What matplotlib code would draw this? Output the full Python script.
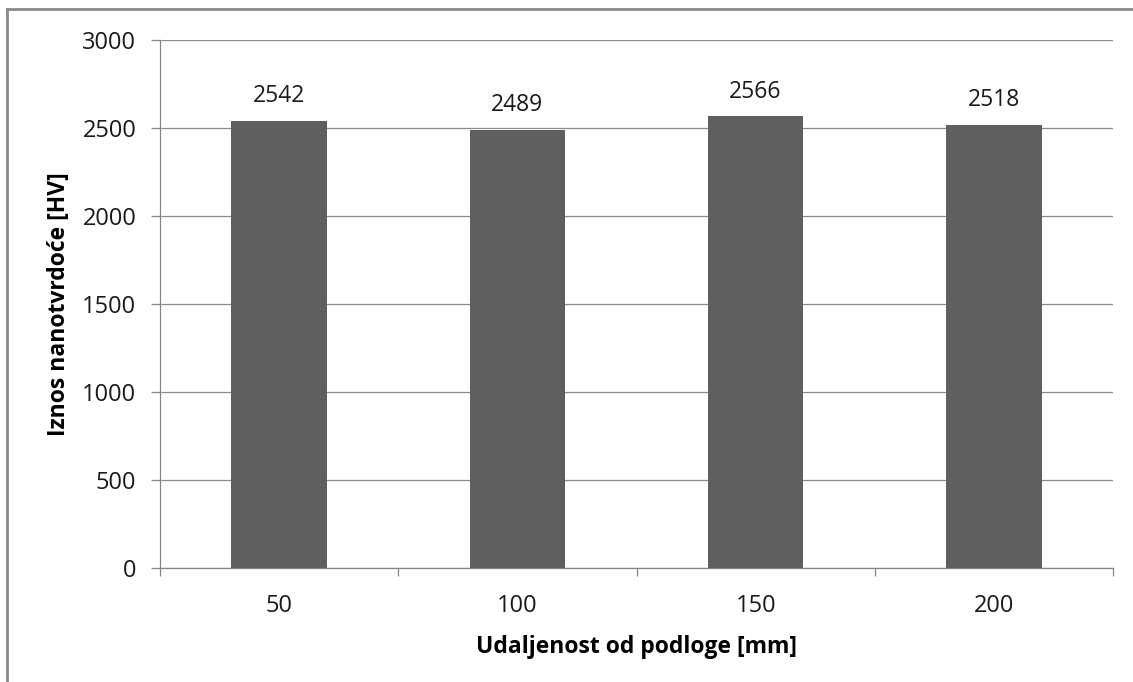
import matplotlib
matplotlib.use("Agg")
import matplotlib.pyplot as plt
from matplotlib.lines import Line2D
import numpy as np

categories = ["50", "100", "150", "200"]
values = [2542, 2489, 2566, 2518]
yticks = [0, 500, 1000, 1500, 2000, 2500, 3000]

plt.rcParams['font.family'] = ['Open Sans', 'DejaVu Sans']
FS = 17
FSL = 16.5

fig = plt.figure(figsize=(11.33, 6.82), dpi=100)
ax = fig.add_axes([160/1133, 1-568/682, (1113-160)/1133, (568-40)/682])

x = np.arange(len(categories))
bars = ax.bar(x, values, width=0.4, color="#5f5f5f", zorder=3)
for xi, v in zip(x, values):
    ax.annotate(str(v), (xi, v), xytext=(0, 9), textcoords="offset points",
                ha="center", va="bottom", fontsize=16.5, color="#1a1a1a")

ax.set_xlim(-0.5, len(categories) - 0.5)
ax.set_ylim(0, 3000)
ax.set_yticks(yticks)
ax.set_yticklabels([str(t) for t in yticks], fontsize=FS)
ax.yaxis.grid(True, color="#8c8c8c", linewidth=0.9, zorder=0)

ax.set_xticks(x)
ax.set_xticklabels(categories, fontsize=FS)
ax.set_xticks(np.arange(-0.5, len(categories)), minor=True)
ax.tick_params(axis="x", which="major", length=0, pad=19)
ax.tick_params(axis="x", which="minor", length=6, color="#868686", width=0.9)
ax.tick_params(axis="y", length=6.5, color="#868686", width=0.9, pad=10.5,
               labelcolor="#1a1a1a")
ax.tick_params(axis="x", labelcolor="#1a1a1a")

for s in ["top", "right"]:
    ax.spines[s].set_visible(False)
for s in ["left", "bottom"]:
    ax.spines[s].set_color("#868686")
    ax.spines[s].set_linewidth(0.9)

ax.set_xlabel("Udaljenost od podloge [mm]", fontsize=FSL, fontweight="bold", labelpad=12)
ax.set_ylabel("Iznos nanotvrdoće [HV]", fontsize=FSL, fontweight="bold", labelpad=8)

# outer frame (left and top edges)
fig.add_artist(Line2D([7/1133, 7/1133], [0, 1-9/682], transform=fig.transFigure,
                      color="#8a8a8a", linewidth=2))
fig.add_artist(Line2D([7/1133, 1], [1-9/682, 1-9/682], transform=fig.transFigure,
                      color="#8a8a8a", linewidth=2))

fig.savefig("out.png", dpi=100)
